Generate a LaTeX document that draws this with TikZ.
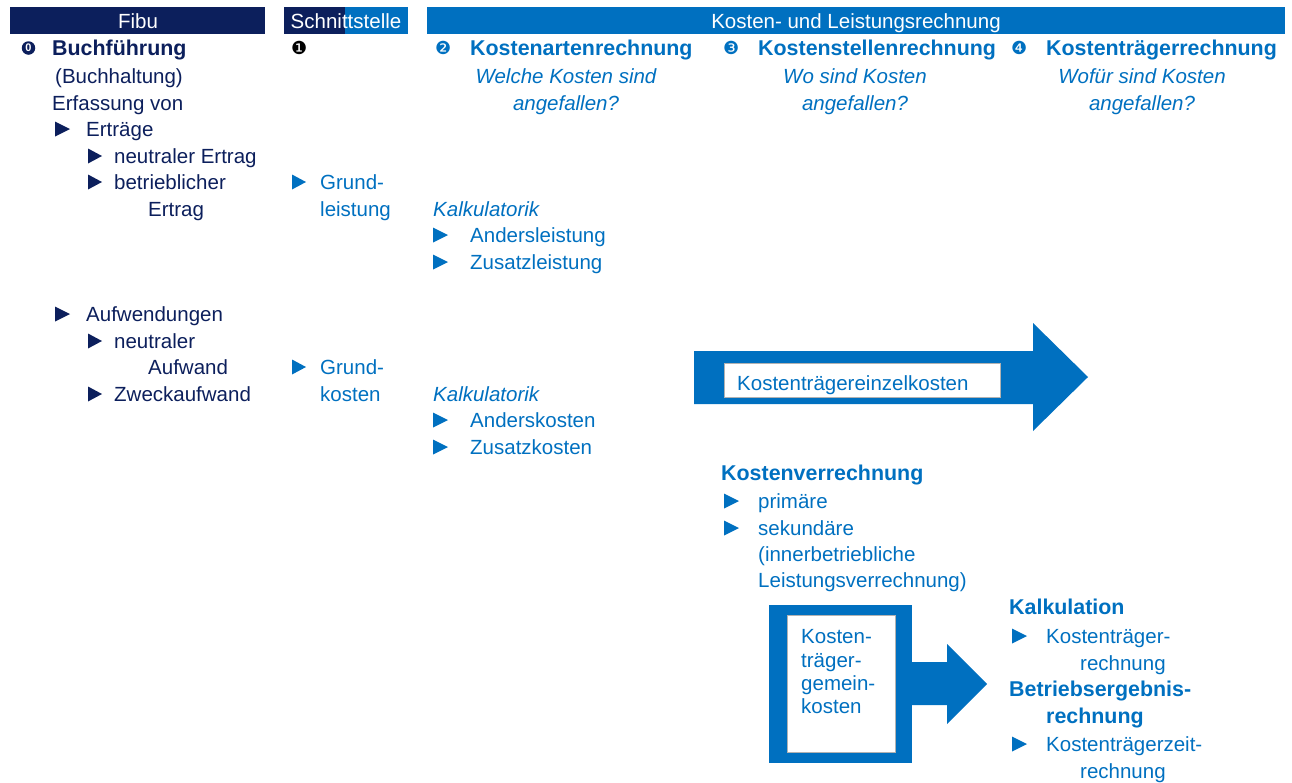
\documentclass[tikz,border=0pt]{standalone}
\usepackage{fontspec}
\setmainfont{Liberation Sans}
\newfontfamily\dv{DejaVu Sans}
\definecolor{navy}{HTML}{0C1F5C}
\definecolor{kblue}{HTML}{0070C0}
\newcommand\tri[4]{\fill[#4] (#1,#2-7.5) -- (#1+#3,#2) -- (#1,#2+7.5) -- cycle;}
\begin{document}
\begin{tikzpicture}[x=1pt,y=-1pt,
  every node/.style={inner sep=0pt,font=\fontsize{20.5}{24}\selectfont},
  nv/.style={anchor=base west,text=navy},
  bl/.style={anchor=base west,text=kblue},
  bf/.style={font=\fontsize{21.4}{24}\selectfont\bfseries},
  blc/.style={anchor=base,text=kblue,font=\fontsize{20.5}{24}\selectfont\itshape},
  hd/.style={anchor=base,text=white},
  num/.style={anchor=base west,font=\dv\fontsize{18}{20}\selectfont}]
\useasboundingbox (0,0) rectangle (1292,782);
% header bars
\fill[navy] (10,7) rectangle (265,34);
\fill[navy] (284,7) rectangle (345,34);
\fill[kblue] (345,7) rectangle (408,34);
\fill[kblue] (427,7) rectangle (1285,34);
\node[hd] (hfibu) at (138,28) {Fibu};
\node[hd] (hschn) at (346,28) {Schnittstelle};
\node[hd] (hklr) at (856,28) {Kosten- und Leistungsrechnung};
% column 0
\node[circle,fill=navy,minimum size=13.5pt,text=white,font=\fontsize{11}{12}\selectfont\bfseries] (n0) at (28.5,48) {0};
\node[nv,bf] (buch) at (52,55) {Buchführung};
\node[nv] (buchh) at (55,83) {(Buchhaltung)};
\node[nv] (erf) at (52,110) {Erfassung von};
\tri{55}{129}{15}{navy}
\node[nv] (ertr) at (86,136) {Erträge};
\tri{88}{156}{14}{navy}
\node[nv] (neutr) at (114,163) {neutraler Ertrag};
\tri{88}{182}{14}{navy}
\node[nv] (betr) at (114,189) {betrieblicher};
\node[nv] (betr2) at (148,216) {Ertrag};
\tri{55}{314}{15}{navy}
\node[nv] (aufw) at (86,321) {Aufwendungen};
\tri{88}{341}{14}{navy}
\node[nv] (neua) at (114,348) {neutraler};
\node[nv] (neua2) at (148,374) {Aufwand};
\tri{88}{394}{14}{navy}
\node[nv] (zweck) at (114,401) {Zweckaufwand};
% column 1
\node[num,text=black] (n1) at (291,54) {❶};
\tri{292}{182}{14}{kblue}
\node[bl] (gl1) at (320,189) {Grund-};
\node[bl] (gl2) at (320,216) {leistung};
\tri{292}{367}{14}{kblue}
\node[bl] (gk1) at (320,374) {Grund-};
\node[bl] (gk2) at (320,401) {kosten};
% column 2
\node[num,text=kblue] (n2) at (435,54) {❷};
\node[bl,bf] (kar) at (470,55) {Kostenartenrechnung};
\node[blc] (q2a) at (566,83) {Welche Kosten sind};
\node[blc] (q2b) at (566,110) {angefallen?};
\node[bl,font=\fontsize{20.5}{24}\selectfont\itshape] (kalk1) at (433,216) {Kalkulatorik};
\tri{433}{235}{15}{kblue}
\node[bl] (andl) at (470,242) {Andersleistung};
\tri{433}{262}{15}{kblue}
\node[bl] (zusl) at (470,269) {Zusatzleistung};
\node[bl,font=\fontsize{20.5}{24}\selectfont\itshape] (kalk2) at (433,401) {Kalkulatorik};
\tri{433}{420}{15}{kblue}
\node[bl] (andk) at (470,427) {Anderskosten};
\tri{433}{447}{15}{kblue}
\node[bl] (zusk) at (470,454) {Zusatzkosten};
% column 3
\node[num,text=kblue] (n3) at (723,54) {❸};
\node[bl,bf] (ksr) at (758,55) {Kostenstellenrechnung};
\node[blc] (q3a) at (855,83) {Wo sind Kosten};
\node[blc] (q3b) at (855,110) {angefallen?};
% column 4
\node[num,text=kblue] (n4) at (1011,54) {❹};
\node[bl,bf] (ktr) at (1046,55) {Kostenträgerrechnung};
\node[blc] (q4a) at (1142,83) {Wofür sind Kosten};
\node[blc] (q4b) at (1142,110) {angefallen?};
% big arrow
\fill[kblue] (694,351) -- (1033,351) -- (1033,323) -- (1088,377) -- (1033,431) -- (1033,404) -- (694,404) -- cycle;
\fill[white] (724,363) rectangle (1000,397);
\draw[gray!60,line width=0.6pt] (724,363) rectangle (1000,397);
\node[bl] (kek) at (737,390) {Kostenträgereinzelkosten};
% Kostenverrechnung
\node[bl,bf] (kvr) at (721,480) {Kostenverrechnung};
\tri{724}{501}{15}{kblue}
\node[bl] (prim) at (758,508) {primäre};
\tri{724}{528}{15}{kblue}
\node[bl] (sek) at (758,535) {sekundäre};
\node[bl] (sek2) at (758,561) {(innerbetriebliche};
\node[bl] (sek3) at (758,587) {Leistungsverrechnung)};
% gemeinkosten box + arrow
\fill[kblue] (769,605) rectangle (912,763);
\fill[white] (787,615) rectangle (895,752);
\draw[gray!60,line width=0.6pt] (787,615) rectangle (895,752);
\node[bl] (gk_a) at (801,643) {Kosten-};
\node[bl] (gk_b) at (801,667) {träger-};
\node[bl] (gk_c) at (801,690) {gemein-};
\node[bl] (gk_d) at (801,713) {kosten};
\fill[kblue] (912,662) -- (947,662) -- (947,644) -- (987,684) -- (947,724) -- (947,705) -- (912,705) -- cycle;
% right texts
\node[bl,bf] (kalc) at (1009,614) {Kalkulation};
\tri{1012}{636}{15}{kblue}
\node[bl] (ktr1) at (1046,643) {Kostenträger-};
\node[bl] (ktr2) at (1080,670) {rechnung};
\node[bl,bf] (ber1) at (1009,696) {Betriebsergebnis-};
\node[bl,bf] (ber2) at (1046,723) {rechnung};
\tri{1012}{744}{15}{kblue}
\node[bl] (kzr1) at (1046,751) {Kostenträgerzeit-};
\node[bl] (kzr2) at (1080,778) {rechnung};
\end{tikzpicture}
\end{document}
